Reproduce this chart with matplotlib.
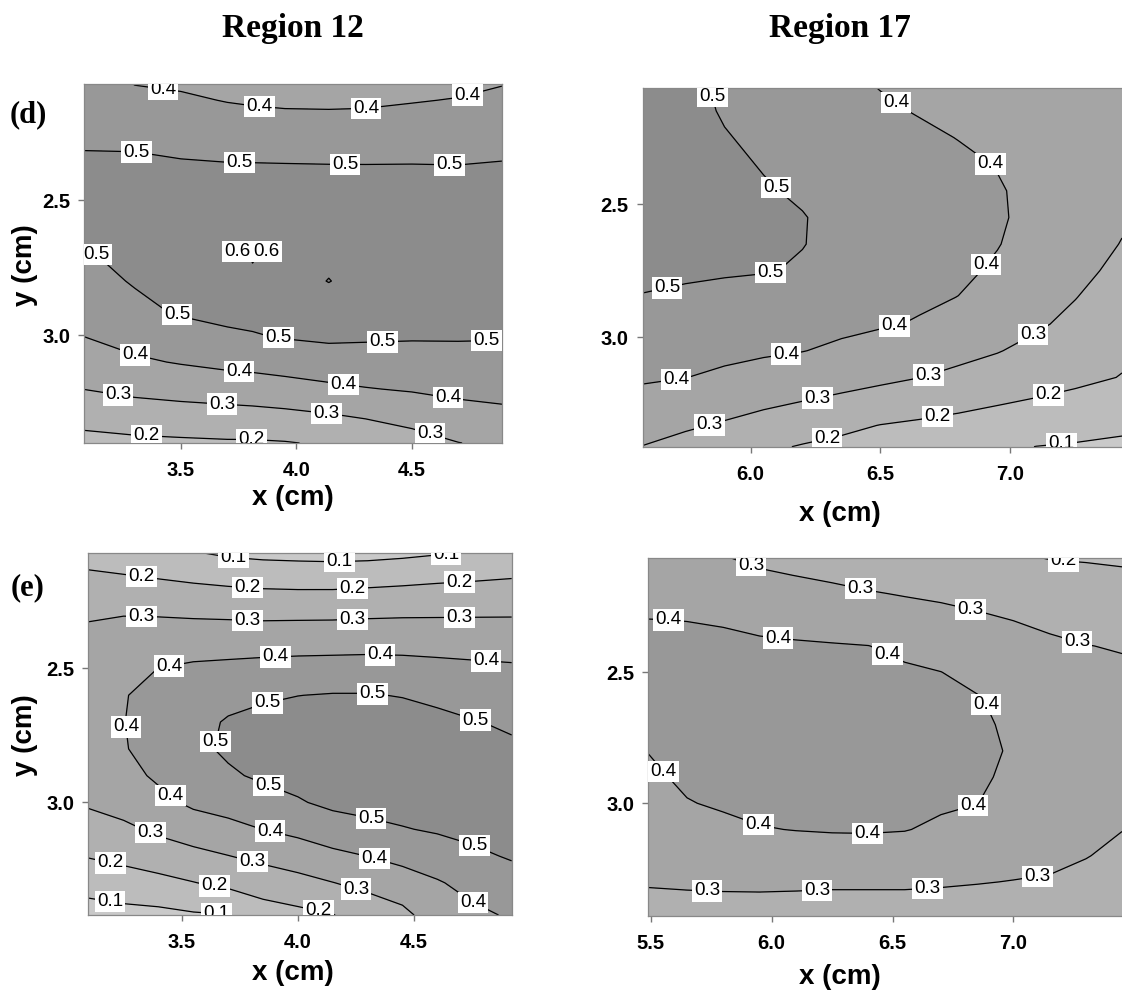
import numpy as np
import matplotlib.pyplot as plt

plt.rcParams['font.family'] = ['Liberation Sans', 'DejaVu Sans']

# contour levels and grey fill for each band
LEVELS = [0.0, 0.1, 0.2, 0.3, 0.4, 0.5, 0.6, 0.7]
LINE_LEVELS = [0.1, 0.2, 0.3, 0.4, 0.5, 0.6]
BAND_COLORS = ['#c9c9c9', '#bcbcbc', '#b0b0b0', '#a5a5a5', '#989898', '#8c8c8c', '#808080']

# ---- Region 12, row (d): values per column, top (small y) to bottom ----
D12_X = [3.08, 3.3, 3.5, 3.7, 3.81, 3.95, 4.14, 4.3, 4.5, 4.7, 4.89]
D12_Y = [2.07, 2.13, 2.2, 2.3, 2.4, 2.5, 2.6, 2.7, 2.8, 2.9, 3.0, 3.1, 3.2, 3.3, 3.4]
D12_COLS = [
    [0.450, 0.463, 0.477, 0.498, 0.510, 0.520, 0.512, 0.494, 0.464, 0.433, 0.403, 0.353, 0.301, 0.234, 0.170],
    [0.398, 0.425, 0.454, 0.496, 0.515, 0.527, 0.528, 0.520, 0.508, 0.478, 0.435, 0.387, 0.323, 0.249, 0.180],
    [0.388, 0.414, 0.445, 0.491, 0.510, 0.525, 0.540, 0.537, 0.530, 0.515, 0.467, 0.406, 0.336, 0.258, 0.185],
    [0.370, 0.396, 0.431, 0.482, 0.512, 0.530, 0.552, 0.555, 0.545, 0.530, 0.487, 0.423, 0.348, 0.264, 0.190],
    [0.360, 0.390, 0.424, 0.476, 0.515, 0.550, 0.585, 0.610, 0.580, 0.540, 0.494, 0.429, 0.354, 0.268, 0.190],
    [0.355, 0.384, 0.420, 0.473, 0.515, 0.535, 0.550, 0.560, 0.555, 0.540, 0.510, 0.440, 0.365, 0.276, 0.195],
    [0.355, 0.383, 0.418, 0.469, 0.515, 0.535, 0.550, 0.575, 0.603, 0.550, 0.520, 0.455, 0.382, 0.292, 0.210],
    [0.360, 0.385, 0.420, 0.468, 0.515, 0.535, 0.550, 0.560, 0.560, 0.545, 0.515, 0.459, 0.396, 0.309, 0.225],
    [0.370, 0.395, 0.427, 0.470, 0.515, 0.535, 0.548, 0.555, 0.555, 0.540, 0.510, 0.464, 0.408, 0.335, 0.260],
    [0.380, 0.404, 0.432, 0.472, 0.512, 0.530, 0.540, 0.548, 0.548, 0.535, 0.510, 0.467, 0.421, 0.365, 0.298],
    [0.397, 0.420, 0.447, 0.485, 0.512, 0.525, 0.535, 0.540, 0.540, 0.530, 0.508, 0.467, 0.427, 0.379, 0.320],
]

# ---- Region 17, row (d): values per row, left to right ----
D17_X = [5.585, 5.75, 5.9, 6.05, 6.2, 6.35, 6.5, 6.65, 6.8, 6.95, 7.1, 7.25, 7.43]
D17_Y = [2.063, 2.15, 2.25, 2.35, 2.45, 2.55, 2.65, 2.75, 2.85, 2.95, 3.05, 3.15, 3.25, 3.33, 3.41]
D17_ROWS = [
    [0.555, 0.518, 0.489, 0.466, 0.442, 0.418, 0.398, 0.388, 0.377, 0.367, 0.357, 0.347, 0.335],
    [0.555, 0.522, 0.494, 0.474, 0.453, 0.433, 0.412, 0.395, 0.384, 0.372, 0.360, 0.349, 0.335],
    [0.553, 0.528, 0.504, 0.486, 0.468, 0.450, 0.433, 0.415, 0.398, 0.382, 0.367, 0.352, 0.333],
    [0.550, 0.531, 0.514, 0.496, 0.480, 0.464, 0.447, 0.431, 0.415, 0.397, 0.376, 0.354, 0.328],
    [0.545, 0.531, 0.519, 0.506, 0.491, 0.474, 0.457, 0.440, 0.423, 0.406, 0.381, 0.353, 0.320],
    [0.540, 0.529, 0.519, 0.510, 0.503, 0.481, 0.463, 0.444, 0.426, 0.408, 0.381, 0.349, 0.310],
    [0.530, 0.522, 0.515, 0.507, 0.502, 0.481, 0.461, 0.442, 0.423, 0.403, 0.372, 0.338, 0.297],
    [0.515, 0.515, 0.510, 0.505, 0.492, 0.472, 0.453, 0.433, 0.414, 0.390, 0.356, 0.322, 0.280],
    [0.497, 0.484, 0.472, 0.460, 0.448, 0.436, 0.424, 0.412, 0.399, 0.367, 0.335, 0.302, 0.260],
    [0.468, 0.457, 0.447, 0.437, 0.428, 0.418, 0.408, 0.394, 0.366, 0.339, 0.311, 0.280, 0.240],
    [0.439, 0.429, 0.420, 0.411, 0.402, 0.385, 0.364, 0.344, 0.324, 0.304, 0.277, 0.249, 0.215],
    [0.410, 0.401, 0.385, 0.368, 0.351, 0.334, 0.318, 0.301, 0.281, 0.261, 0.241, 0.221, 0.197],
    [0.370, 0.350, 0.331, 0.312, 0.294, 0.276, 0.257, 0.239, 0.221, 0.203, 0.187, 0.171, 0.152],
    [0.334, 0.312, 0.291, 0.267, 0.243, 0.220, 0.198, 0.185, 0.172, 0.159, 0.146, 0.133, 0.117],
    [0.298, 0.270, 0.243, 0.216, 0.194, 0.178, 0.162, 0.147, 0.131, 0.116, 0.099, 0.092, 0.083],
]

# ---- Region 12, row (e): values per column, top to bottom ----
E12_X = [3.098, 3.25, 3.4, 3.55, 3.7, 3.85, 4.0, 4.15, 4.3, 4.45, 4.6, 4.75, 4.92]
E12_Y = [2.068, 2.13, 2.2, 2.3, 2.4, 2.5, 2.6, 2.7, 2.8, 2.9, 3.0, 3.1, 3.2, 3.3, 3.42]
E12_COLS = [
    [0.165, 0.199, 0.238, 0.293, 0.320, 0.340, 0.355, 0.360, 0.350, 0.335, 0.310, 0.265, 0.205, 0.136, 0.060],
    [0.147, 0.188, 0.233, 0.298, 0.340, 0.365, 0.395, 0.398, 0.395, 0.370, 0.340, 0.280, 0.225, 0.155, 0.070],
    [0.130, 0.174, 0.225, 0.296, 0.349, 0.401, 0.430, 0.440, 0.430, 0.415, 0.374, 0.317, 0.250, 0.173, 0.075],
    [0.105, 0.158, 0.215, 0.291, 0.355, 0.415, 0.440, 0.465, 0.478, 0.465, 0.418, 0.348, 0.274, 0.197, 0.090],
    [0.085, 0.141, 0.206, 0.287, 0.360, 0.420, 0.466, 0.510, 0.515, 0.487, 0.435, 0.375, 0.298, 0.222, 0.098],
    [0.075, 0.133, 0.198, 0.283, 0.360, 0.428, 0.486, 0.530, 0.540, 0.515, 0.461, 0.401, 0.324, 0.247, 0.155],
    [0.070, 0.130, 0.195, 0.284, 0.362, 0.433, 0.499, 0.535, 0.550, 0.530, 0.492, 0.424, 0.349, 0.270, 0.175],
    [0.068, 0.127, 0.195, 0.285, 0.363, 0.436, 0.505, 0.540, 0.560, 0.550, 0.520, 0.455, 0.378, 0.298, 0.197],
    [0.070, 0.132, 0.201, 0.289, 0.366, 0.437, 0.505, 0.545, 0.565, 0.560, 0.532, 0.475, 0.401, 0.326, 0.240],
    [0.079, 0.141, 0.208, 0.292, 0.366, 0.433, 0.496, 0.540, 0.565, 0.560, 0.537, 0.495, 0.427, 0.357, 0.275],
    [0.092, 0.152, 0.216, 0.293, 0.364, 0.425, 0.478, 0.525, 0.550, 0.555, 0.535, 0.510, 0.452, 0.392, 0.350],
    [0.105, 0.162, 0.221, 0.294, 0.361, 0.418, 0.462, 0.505, 0.530, 0.545, 0.540, 0.520, 0.485, 0.429, 0.380],
    [0.120, 0.174, 0.227, 0.295, 0.357, 0.412, 0.449, 0.486, 0.515, 0.530, 0.535, 0.525, 0.507, 0.468, 0.410],
]

# ---- Region 17, row (e): values per column, top to bottom ----
E17_X = [5.49, 5.65, 5.8, 5.95, 6.1, 6.25, 6.4, 6.55, 6.7, 6.85, 7.0, 7.15, 7.3, 7.449]
E17_Y = [2.065, 2.13, 2.2, 2.3, 2.4, 2.5, 2.6, 2.7, 2.8, 2.9, 3.0, 3.1, 3.2, 3.3, 3.429]
E17_COLS = [
    [0.330, 0.350, 0.370, 0.401, 0.410, 0.415, 0.415, 0.410, 0.402, 0.384, 0.364, 0.344, 0.324, 0.304, 0.280],
    [0.320, 0.340, 0.365, 0.399, 0.415, 0.425, 0.430, 0.430, 0.425, 0.415, 0.396, 0.367, 0.337, 0.308, 0.275],
    [0.305, 0.330, 0.356, 0.394, 0.415, 0.428, 0.435, 0.440, 0.435, 0.425, 0.410, 0.380, 0.346, 0.312, 0.270],
    [0.284, 0.311, 0.341, 0.384, 0.410, 0.425, 0.435, 0.440, 0.440, 0.432, 0.420, 0.396, 0.355, 0.315, 0.265],
    [0.272, 0.299, 0.331, 0.374, 0.408, 0.425, 0.435, 0.440, 0.440, 0.435, 0.420, 0.402, 0.358, 0.313, 0.265],
    [0.258, 0.287, 0.319, 0.364, 0.405, 0.420, 0.430, 0.438, 0.440, 0.435, 0.424, 0.406, 0.359, 0.312, 0.260],
    [0.242, 0.273, 0.306, 0.354, 0.401, 0.415, 0.425, 0.432, 0.435, 0.432, 0.423, 0.407, 0.360, 0.312, 0.260],
    [0.235, 0.264, 0.295, 0.340, 0.384, 0.410, 0.420, 0.427, 0.430, 0.428, 0.420, 0.403, 0.358, 0.312, 0.260],
    [0.232, 0.258, 0.287, 0.325, 0.362, 0.401, 0.410, 0.418, 0.420, 0.418, 0.410, 0.387, 0.347, 0.308, 0.260],
    [0.222, 0.250, 0.279, 0.311, 0.343, 0.376, 0.405, 0.410, 0.412, 0.408, 0.401, 0.368, 0.335, 0.303, 0.260],
    [0.210, 0.235, 0.262, 0.299, 0.330, 0.355, 0.375, 0.390, 0.395, 0.390, 0.375, 0.350, 0.325, 0.298, 0.262],
    [0.198, 0.222, 0.246, 0.283, 0.315, 0.340, 0.357, 0.370, 0.375, 0.370, 0.358, 0.340, 0.318, 0.293, 0.265],
    [0.195, 0.215, 0.238, 0.270, 0.302, 0.325, 0.340, 0.350, 0.355, 0.350, 0.338, 0.322, 0.302, 0.285, 0.270],
    [0.190, 0.210, 0.232, 0.260, 0.294, 0.315, 0.328, 0.335, 0.337, 0.330, 0.318, 0.301, 0.288, 0.278, 0.270],
]

TITLES = ['Region 12', 'Region 17']
ROW_TAGS = ['(d)', '(e)']

# where the contour labels sit (data coords, snapped to nearest line)
D12_LABELS = [(3.42, 2.10), (3.84, 2.16), (4.30, 2.157), (4.74, 2.106),
              (3.31, 2.31), (3.755, 2.351), (4.21, 2.364), (4.664, 2.37),
              (3.15, 2.685), (3.474, 2.942), (3.921, 3.014), (4.372, 3.039), (4.822, 3.02),
              (3.298, 3.084), (3.749, 3.149), (4.202, 3.188), (4.655, 3.238),
              (3.224, 3.238), (3.676, 3.266), (4.128, 3.306), (4.575, 3.377),
              (3.351, 3.39), (3.806, 3.395)]
D12_PEAK_LABELS = [(3.745, 2.69), (3.87, 2.69)]
D17_LABELS = [(5.815, 2.106), (6.106, 2.431), (6.081, 2.769), (5.68, 2.822),
              (6.553, 2.1275), (6.924, 2.349), (6.924, 2.74), (6.555, 2.9625),
              (6.136, 3.061), (5.713, 3.159),
              (5.841, 3.324), (6.256, 3.221), (6.683, 3.136), (7.09, 2.994),
              (6.292, 3.3675), (6.719, 3.296), (7.145, 3.209), (7.196, 3.39)]
E12_LABELS = [(3.722, 2.09), (4.179, 2.102), (4.638, 2.075),
              (3.328, 2.16), (3.783, 2.201), (4.236, 2.205), (4.695, 2.185),
              (3.328, 2.31), (3.783, 2.316), (4.236, 2.32), (4.695, 2.31),
              (3.443, 2.481), (3.902, 2.448), (4.354, 2.444), (4.81, 2.466),
              (3.26, 2.718), (3.443, 2.985), (3.877, 3.118), (4.322, 3.228), (4.755, 3.371),
              (3.863, 2.608), (4.322, 2.591), (4.763, 2.699), (3.622, 2.767),
              (3.866, 2.954), (4.311, 3.072), (4.755, 3.172),
              (3.357, 3.128), (3.804, 3.221), (4.246, 3.333),
              (3.192, 3.234), (3.643, 3.302), (4.093, 3.389),
              (3.192, 3.364), (3.651, 3.404)]
E17_LABELS = [(5.914, 2.094), (6.366, 2.186), (6.821, 2.262), (7.262, 2.389), (7.207, 2.084),
              (5.573, 2.30), (6.028, 2.358), (6.483, 2.421), (6.897, 2.618),
              (6.835, 3.013), (6.396, 3.127), (5.941, 3.092), (5.56, 2.873),
              (5.732, 3.337), (6.187, 3.328), (6.646, 3.328), (7.101, 3.28)]

W, H = 1122, 999
LABEL_SIZE = 13.5
LABEL_BOX = dict(boxstyle='square,pad=0.12', fc='white', ec='none')


def px_rect(left, top, right, bottom):
    return [left / W, 1 - bottom / H, (right - left) / W, (bottom - top) / H]


def draw_panel(ax, xs, ys, z, xticks, label_pos, cut_right):
    ax.contourf(xs, ys, z, levels=LEVELS, colors=BAND_COLORS)
    cs = ax.contour(xs, ys, z, levels=LINE_LEVELS, colors='black', linewidths=0.9)
    ax.set_xlim(xs[0], xs[-1])
    ax.set_ylim(ys[-1], ys[0])
    ax.set_xticks(xticks)
    ax.set_yticks([2.5, 3.0])
    ax.xaxis.set_major_formatter('{x:.1f}')
    ax.yaxis.set_major_formatter('{x:.1f}')
    texts = ax.clabel(cs, inline=False, fmt='%.1f', fontsize=LABEL_SIZE, manual=label_pos)
    for t in texts:
        t.set_rotation(0)
        t.set_bbox(LABEL_BOX)
    ax.tick_params(direction='out', length=4, width=1, color='#777777',
                   labelsize=14.5, top=False, right=False)
    ax.tick_params(axis='x', pad=9)
    ax.tick_params(axis='y', pad=6)
    for lab in ax.get_xticklabels() + ax.get_yticklabels():
        lab.set_fontweight('bold')
    for side, sp in ax.spines.items():
        sp.set_color('#888888')
        sp.set_linewidth(0.9)
    if cut_right:
        ax.spines['right'].set_visible(False)
    return ax


fig = plt.figure(figsize=(W / 100, H / 100), dpi=100)

ax_d12 = fig.add_axes(px_rect(84, 84, 502, 443))
draw_panel(ax_d12, D12_X, D12_Y, np.array(D12_COLS).T, [3.5, 4.0, 4.5], D12_LABELS, False)
for (px_, py_) in D12_PEAK_LABELS:
    ax_d12.text(px_, py_, f'{0.6:.1f}', fontsize=LABEL_SIZE, ha='center', va='center', bbox=LABEL_BOX)

ax_d17 = fig.add_axes(px_rect(642.7, 87.7, 1122, 446.7))
draw_panel(ax_d17, D17_X, D17_Y, np.array(D17_ROWS), [6.0, 6.5, 7.0], D17_LABELS, True)

ax_e12 = fig.add_axes(px_rect(88.3, 552.7, 511.7, 915))
draw_panel(ax_e12, E12_X, E12_Y, np.array(E12_COLS).T, [3.5, 4.0, 4.5], E12_LABELS, False)

ax_e17 = fig.add_axes(px_rect(648.3, 558.3, 1122, 915.7))
draw_panel(ax_e17, E17_X, E17_Y, np.array(E17_COLS).T, [5.5, 6.0, 6.5, 7.0], E17_LABELS, True)

# column titles, row tags and axis titles
serif = ['Liberation Serif', 'DejaVu Serif']
fig.text(293 / W, 1 - 28 / H, TITLES[0], family=serif, weight='bold', fontsize=24, ha='center', va='center')
fig.text(840 / W, 1 - 28 / H, TITLES[1], family=serif, weight='bold', fontsize=24, ha='center', va='center')
fig.text(28 / W, 1 - 115 / H, ROW_TAGS[0], family=serif, weight='bold', fontsize=22, ha='center', va='center')
fig.text(28 / W, 1 - 588 / H, ROW_TAGS[1], family=serif, weight='bold', fontsize=22, ha='center', va='center')

for (cx, cy) in [(293, 498), (840, 514), (293, 973), (840, 977)]:
    fig.text(cx / W, 1 - cy / H, 'x (cm)', weight='bold', fontsize=20, ha='center', va='center')
for cy in [265, 735]:
    fig.text(25 / W, 1 - cy / H, 'y (cm)', weight='bold', fontsize=20, ha='center', va='center', rotation=90)

fig.savefig('out.png', dpi=100)
